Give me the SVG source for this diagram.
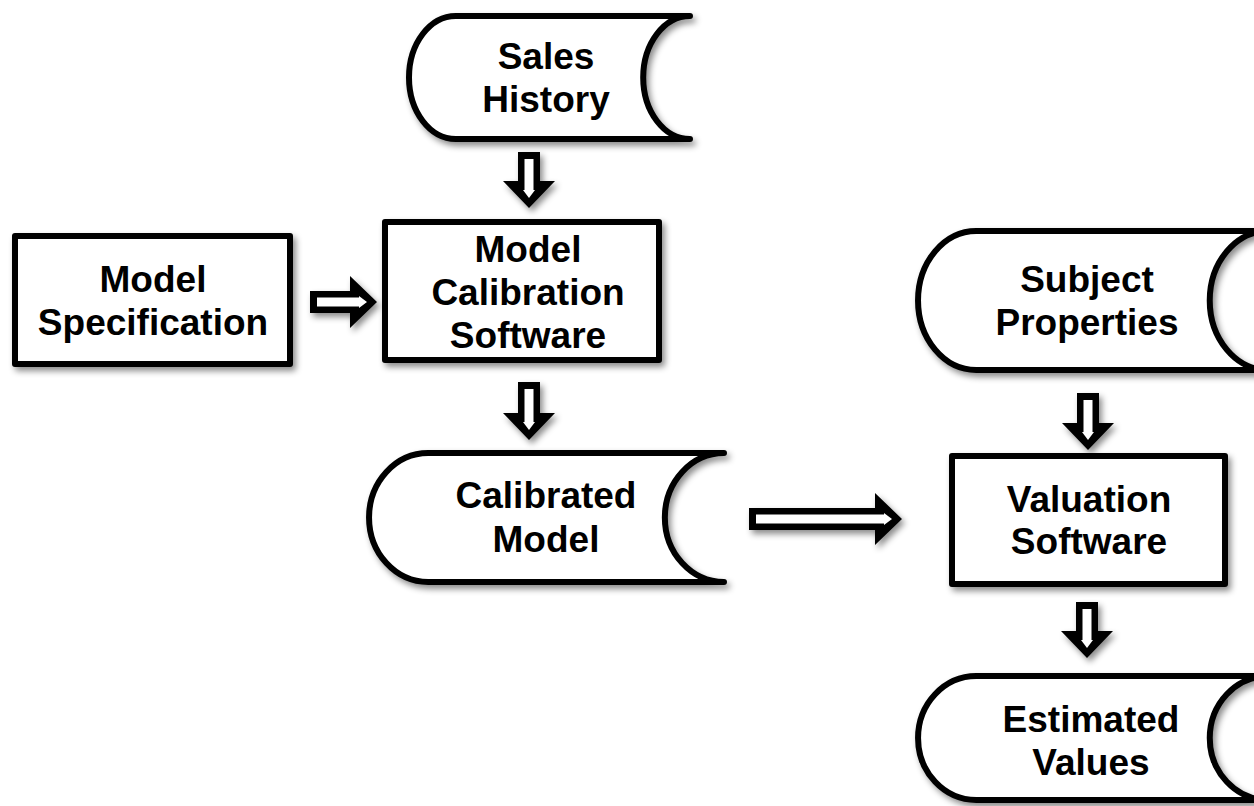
<svg xmlns="http://www.w3.org/2000/svg" width="1254" height="806" viewBox="0 0 1254 806">
<defs>
<filter id="sh" x="-10%" y="-10%" width="125%" height="130%">
<feDropShadow dx="3" dy="4" stdDeviation="3" flood-color="#000" flood-opacity="0.45"/>
</filter>
</defs>
<style>
.shape{fill:#fff;stroke:#000;stroke-width:6;stroke-linejoin:round;filter:url(#sh)}
.ab{fill:#000;filter:url(#sh)}
.aw{fill:#fff}
text{font-family:"Liberation Sans",Arial,sans-serif;font-weight:bold;font-size:37px;fill:#000;text-anchor:middle}
</style>
<rect width="1254" height="806" fill="#fff"/>
<g id="connectors">
<g id="a1">
<path class="ab" d="M518,152 H540 V181 H555 L529,208 L503,181 H518 Z"/>
<path class="aw" d="M524.5,159 H533.5 V190 H535 L529,198 L523,190 H524.5 Z"/>
</g>
<g id="a2">
<path class="ab" d="M518,382 H540 V413 H555 L529,440 L503,413 H518 Z"/>
<path class="aw" d="M524.5,389 H533.5 V422 H535 L529,430 L523,422 H524.5 Z"/>
</g>
<g id="a3">
<path class="ab" d="M1077,393 H1099 V423 H1114 L1088,450 L1062,423 H1077 Z"/>
<path class="aw" d="M1083.5,400 H1092.5 V432 H1094 L1088,440 L1082,432 H1083.5 Z"/>
</g>
<g id="a4">
<path class="ab" d="M1076,602 H1098 V631 H1113 L1087,658 L1061,631 H1076 Z"/>
<path class="aw" d="M1082.5,609 H1091.5 V640 H1093 L1087,648 L1081,640 H1082.5 Z"/>
</g>
<g id="r1">
<path class="ab" d="M310,291 V313 H350 V328 L377,302 L350,276 V291 Z"/>
<path class="aw" d="M317,297.5 V306.5 H359 V308 L367,302 L359,296 V297.5 Z"/>
</g>
<g id="r2">
<path class="ab" d="M749,508 V530 H875 V545 L902,519 L875,493 V508 Z"/>
<path class="aw" d="M756,514.5 V523.5 H884 V525 L892,519 L884,513 V514.5 Z"/>
</g>
</g>
<g id="sales-history">
<path class="shape" d="M455.8,16 H690 A46.8,61.5 0 0 0 690,139 H455.8 A46.8,61.5 0 0 1 455.8,16 Z"/>
<text x="546" y="69">Sales</text>
<text x="546" y="112">History</text>
</g>
<g id="model-specification">
<rect class="shape" x="15" y="236" width="275" height="128"/>
<text x="153" y="292">Model</text>
<text x="153" y="335">Specification</text>
</g>
<g id="model-calibration-software">
<rect class="shape" x="385" y="222" width="274" height="138"/>
<text x="528" y="262">Model</text>
<text x="528" y="305">Calibration</text>
<text x="528" y="348">Software</text>
</g>
<g id="calibrated-model">
<path class="shape" d="M428.2,453 H724 A59.2,64.5 0 0 0 724,582 H428.2 A59.2,64.5 0 0 1 428.2,453 Z"/>
<text x="546" y="508">Calibrated</text>
<text x="546" y="552">Model</text>
</g>
<g id="subject-properties">
<path class="shape" d="M976.3,231 H1268 A58.3,69.5 0 0 0 1268,370 H976.3 A58.3,69.5 0 0 1 976.3,231 Z"/>
<text x="1087" y="292">Subject</text>
<text x="1087" y="335">Properties</text>
</g>
<g id="valuation-software">
<rect class="shape" x="952" y="456" width="273" height="128"/>
<text x="1089" y="512">Valuation</text>
<text x="1089" y="554">Software</text>
</g>
<g id="estimated-values">
<path class="shape" d="M976.3,676 H1268 A58.3,62 0 0 0 1268,800 H976.3 A58.3,62 0 0 1 976.3,676 Z"/>
<text x="1091" y="732">Estimated</text>
<text x="1091" y="775">Values</text>
</g>
</svg>
